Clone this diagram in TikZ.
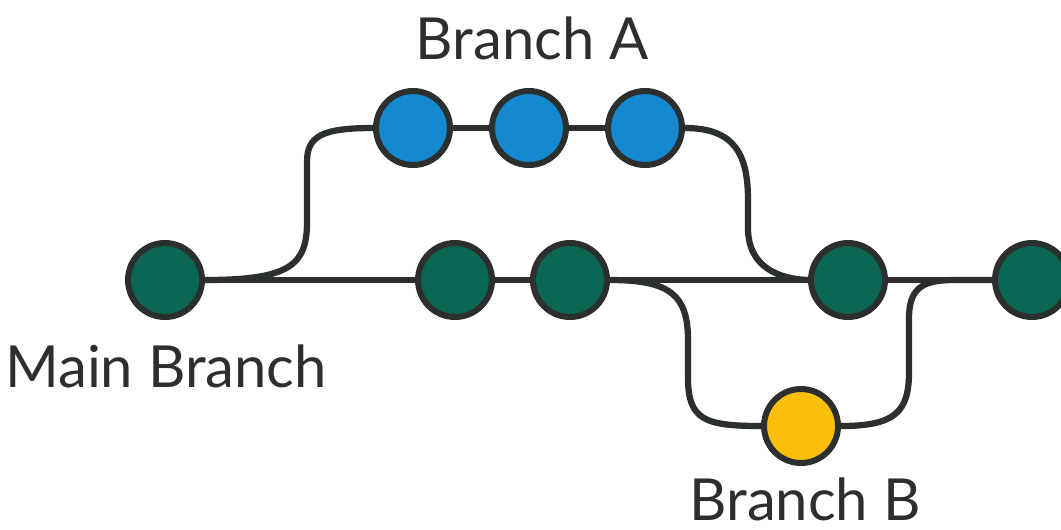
\documentclass[tikz,border=0pt]{standalone}
\usepackage{fontspec}
\setmainfont{Lato}
\usetikzlibrary{backgrounds}
\definecolor{linegray}{HTML}{2B2F2E}
\definecolor{maingreen}{HTML}{0B6654}
\definecolor{branchblue}{HTML}{1589CF}
\definecolor{branchyellow}{HTML}{F9BF0B}
\tikzset{
  commit/.style={shape=circle,draw=linegray,line width=0.12cm,minimum size=1.48cm,inner sep=0pt},
  link/.style={draw=linegray,line width=0.125cm},
  branchname/.style={text=linegray,anchor=base,inner sep=0pt,font=\fontsize{33}{38}\selectfont}
}
\begin{document}
\begin{tikzpicture}[x=0.02cm,y=-0.02cm]
\useasboundingbox (0,0) rectangle (1061,529);
\node[commit,fill=maingreen](M1) at (165,280){};
\node[commit,fill=maingreen](M2) at (455,280){};
\node[commit,fill=maingreen](M3) at (570,280){};
\node[commit,fill=maingreen](M4) at (848,280){};
\node[commit,fill=maingreen](M5) at (1032,280){};
\node[commit,fill=branchblue](A1) at (413,128){};
\node[commit,fill=branchblue](A2) at (529,128){};
\node[commit,fill=branchblue](A3) at (645,128){};
\node[commit,fill=branchyellow](B1) at (801,426){};
\node[branchname](LA) at (532,59){Branch A};
\node[branchname](LM) at (166,387){Main Branch};
\node[branchname](LB) at (805,520){Branch B};
\begin{scope}[on background layer]
\draw[link] (M1) -- (M2);
\draw[link] (M2) -- (M3);
\draw[link] (M3) -- (M4);
\draw[link] (M4) -- (M5);
\draw[link] (A1) -- (A2);
\draw[link] (A2) -- (A3);
\draw[link] (M1.east) .. controls (290,280) and (307,265) .. (307,222) -- (307,162) .. controls (307,136) and (322,128) .. (A1.west);
\draw[link] (A3.east) .. controls (735,128) and (748,155) .. (748,200) -- (748,228) .. controls (748,268) and (780,279) .. (M4.west);
\draw[link] (M3.east) .. controls (670,280) and (688,295) .. (688,340) -- (688,378) .. controls (688,420) and (705,426) .. (B1.west);
\draw[link] (B1.east) .. controls (895,426) and (909,412) .. (909,372) -- (909,318) .. controls (909,286) and (925,280) .. (955,280) -- (M5.west);
\end{scope}
\end{tikzpicture}
\end{document}
